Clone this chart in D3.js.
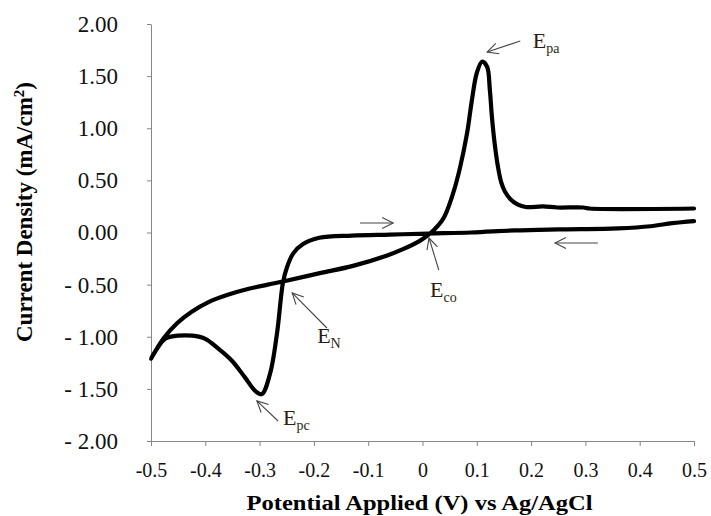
<html lang="en">
<head>
    <meta charset="UTF-8">
    <title>Cyclic voltammogram</title>
    <script src="https://d3js.org/d3.v7.min.js"></script>
    <style>
        body { margin: 0; background: #fff; }
        text { font-family: "Liberation Serif", "Times New Roman", serif; }
    </style>
</head>
<body>
    <div id="chart"></div>
    <script>
        // tick values and their printed labels
        const xTicks = [-0.5, -0.4, -0.3, -0.2, -0.1, 0, 0.1, 0.2, 0.3, 0.4, 0.5];
        const xTickLabels = ["-0.5", "-0.4", "-0.3", "-0.2", "-0.1", "0", "0.1", "0.2", "0.3", "0.4", "0.5"];
        const yTicks = [2, 1.5, 1, 0.5, 0, -0.5, -1, -1.5, -2];
        const yTickLabels = ["2.00", "1.50", "1.00", "0.50", "0.00", "- 0.50", "- 1.00", "- 1.50", "- 2.00"];

        // scan from +0.5 V down to -0.5 V, then back up to +0.5 V
        const potential = [
            0.50, 0.46, 0.42, 0.36, 0.25, 0.17, 0.09, 0.01, -0.06, -0.13, -0.19, -0.22, -0.238, -0.25, -0.257,
            -0.268, -0.281, -0.296, -0.308, -0.327, -0.351, -0.377, -0.40, -0.424, -0.45, -0.474, -0.50,
            -0.476, -0.452, -0.425, -0.395, -0.36, -0.32, -0.285, -0.257, -0.189, -0.128, -0.065, -0.036,
            -0.005, 0.014, 0.038, 0.056, 0.069, 0.082, 0.091, 0.10, 0.11, 0.119, 0.124, 0.128, 0.133, 0.139,
            0.145, 0.152, 0.162, 0.175, 0.19, 0.222, 0.248, 0.296, 0.308, 0.50
        ];
        const current = [
            0.11, 0.09, 0.06, 0.04, 0.03, 0.02, 0.00, -0.01, -0.02, -0.03, -0.05, -0.11, -0.20, -0.34, -0.48,
            -0.97, -1.36, -1.55, -1.52, -1.39, -1.23, -1.11, -1.02, -0.99, -0.99, -1.02, -1.21,
            -1.01, -0.87, -0.76, -0.67, -0.60, -0.54, -0.50, -0.47, -0.39, -0.32, -0.22, -0.16,
            -0.08, -0.01, 0.13, 0.37, 0.62, 0.95, 1.27, 1.53, 1.64, 1.59, 1.37, 1.10, 0.85, 0.63,
            0.48, 0.39, 0.32, 0.27, 0.245, 0.25, 0.24, 0.24, 0.23, 0.23
        ];

        // annotations (data units): label, subscript, label anchor, arrow tail -> head
        const noteNames = ["E", "E", "E", "E"];
        const noteSubs = ["pa", "pc", "N", "co"];
        const noteAt = [[0.203, 1.77], [-0.257, -1.85], [-0.194, -1.06], [0.014, -0.62]];
        const arrowFrom = [[0.180, 1.837], [-0.266, -1.808], [-0.176, -0.916], [0.030, -0.36], [-0.115, 0.091], [0.323, -0.101]];
        const arrowTo = [[0.119, 1.731], [-0.305, -1.616], [-0.240, -0.58], [0.012, -0.053], [-0.054, 0.091], [0.244, -0.101]];

        const width = 711, height = 516;
        const margin = { top: 24, right: 17, bottom: 75, left: 151 };

        const svg = d3.select("#chart").append("svg")
            .attr("width", width)
            .attr("height", height);

        const x = d3.scaleLinear().domain([-0.5, 0.5]).range([margin.left, width - margin.right]);
        const y = d3.scaleLinear().domain([-2, 2]).range([height - margin.bottom, margin.top]);

        const axisColor = "#868686";

        // y axis
        const yAxis = svg.append("g")
            .attr("transform", `translate(${margin.left},0)`)
            .call(d3.axisLeft(y).tickValues(yTicks).tickSize(4).tickSizeOuter(0).tickPadding(29)
                .tickFormat((d, i) => yTickLabels[i]));
        yAxis.selectAll("text").style("font-size", "23px").attr("fill", "#111");

        // x axis
        const xAxis = svg.append("g")
            .attr("transform", `translate(0,${y(-2)})`)
            .call(d3.axisBottom(x).tickValues(xTicks).tickSize(5).tickSizeOuter(0)
                .tickFormat((d, i) => xTickLabels[i]));
        xAxis.selectAll("text").style("font-size", "20px").attr("fill", "#111")
            .attr("dy", null).attr("y", 36);

        svg.selectAll(".domain, .tick line").attr("stroke", axisColor);

        // axis titles
        svg.append("text")
            .attr("x", (x(-0.5) + x(0.5)) / 2 - 3)
            .attr("y", 510)
            .attr("text-anchor", "middle")
            .attr("font-weight", "bold")
            .attr("textLength", 346)
            .attr("lengthAdjust", "spacingAndGlyphs")
            .style("font-size", "20px")
            .text("Potential Applied (V) vs Ag/AgCl");

        const yTitle = svg.append("text")
            .attr("transform", "translate(32,212) rotate(-90)")
            .attr("text-anchor", "middle")
            .attr("font-weight", "bold")
            .style("font-size", "23px");
        yTitle.append("tspan").text("Current Density (mA/cm");
        yTitle.append("tspan").attr("dy", -8).style("font-size", "15px").text("2");
        yTitle.append("tspan").attr("dy", 8).text(")");

        // voltammogram trace
        const points = potential.map((v, i) => [v, current[i]]);
        const line = d3.line()
            .x(d => x(d[0]))
            .y(d => y(d[1]))
            .curve(d3.curveCatmullRom.alpha(0.5));

        svg.append("path")
            .datum(points)
            .attr("fill", "none")
            .attr("stroke", "#000")
            .attr("stroke-width", 4.2)
            .attr("stroke-linejoin", "round")
            .attr("stroke-linecap", "round")
            .attr("d", line);

        // arrows
        svg.append("defs").append("marker")
            .attr("id", "head")
            .attr("viewBox", "-12 -7 14 14")
            .attr("refX", 0).attr("refY", 0)
            .attr("markerWidth", 14).attr("markerHeight", 14)
            .attr("markerUnits", "userSpaceOnUse")
            .attr("orient", "auto")
            .append("path")
            .attr("d", "M-11,-5.5L0,0L-11,5.5")
            .attr("fill", "none")
            .attr("stroke", "#444")
            .attr("stroke-width", 1.1);

        svg.append("g").selectAll("line")
            .data(arrowFrom)
            .join("line")
            .attr("x1", d => x(d[0]))
            .attr("y1", d => y(d[1]))
            .attr("x2", (d, i) => x(arrowTo[i][0]))
            .attr("y2", (d, i) => y(arrowTo[i][1]))
            .attr("stroke", "#444")
            .attr("stroke-width", 1.1)
            .attr("marker-end", "url(#head)");

        // peak labels
        const notes = svg.append("g").selectAll("text")
            .data(noteAt)
            .join("text")
            .attr("x", d => x(d[0]))
            .attr("y", d => y(d[1]))
            .attr("fill", "#2a1e0e")
            .style("font-size", "22px");
        notes.append("tspan").text((d, i) => noteNames[i]);
        notes.append("tspan").attr("dy", 5).style("font-size", "14px").text((d, i) => noteSubs[i]);
    </script>
</body>
</html>
